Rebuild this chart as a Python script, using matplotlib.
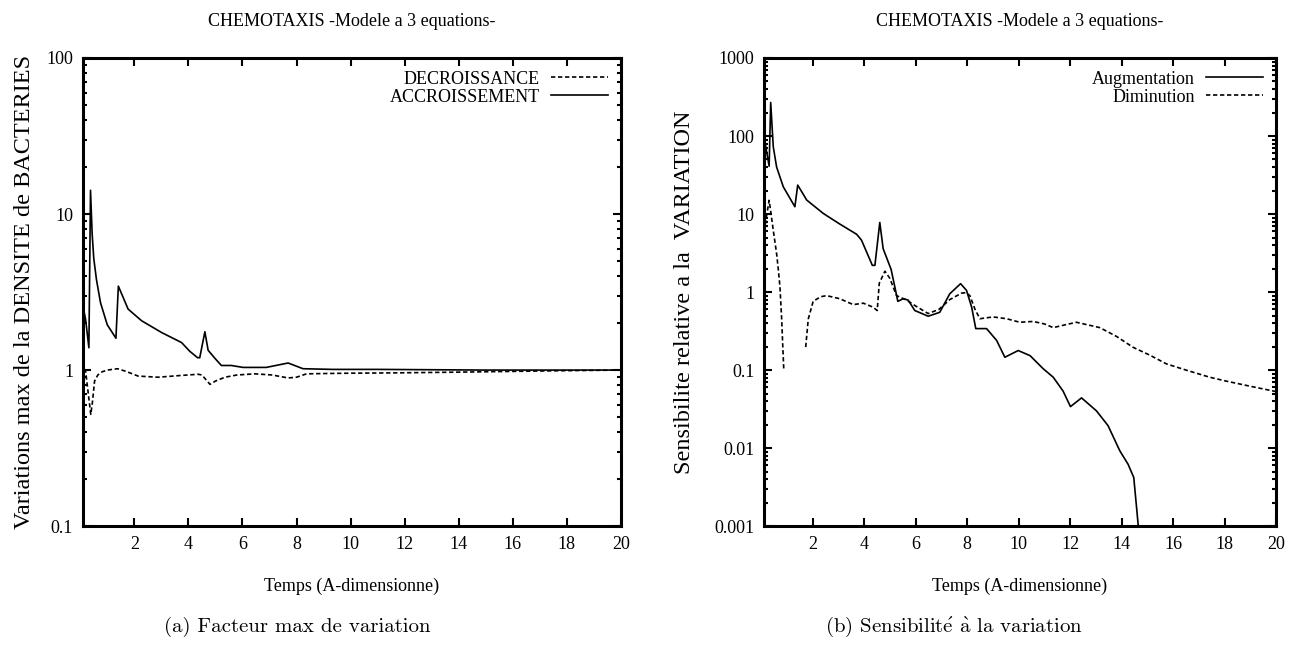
import numpy as np
import matplotlib
matplotlib.use("Agg")
import matplotlib.pyplot as plt
from matplotlib.ticker import FixedLocator, LogLocator, NullFormatter

# ---- data ----
# (a) facteur max de variation
t_acc = [0.1, 0.2, 0.32, 0.38, 0.44, 0.5, 0.6, 0.75, 1.0, 1.32, 1.41, 1.77,
         2.27, 3.01, 3.75, 4.05, 4.34, 4.42, 4.61, 4.73, 4.98, 5.22, 5.59,
         6.02, 6.88, 7.69, 8.24, 9.34, 11.0, 13.0, 15.0, 17.0, 20.0]
acc = [2.6, 2.1, 1.39, 14.2, 7.5, 5.2, 3.8, 2.7, 1.95, 1.6, 3.45, 2.46,
       2.07, 1.74, 1.5, 1.32, 1.2, 1.2, 1.76, 1.34, 1.19, 1.07, 1.07,
       1.04, 1.04, 1.11, 1.02, 1.01, 1.01, 1.005, 1.0, 1.0, 1.0]

t_dec = [0.1, 0.2, 0.3, 0.39, 0.45, 0.53, 0.65, 0.81, 1.0, 1.38, 1.7, 2.14,
         2.88, 3.6, 4.36, 4.5, 4.8, 5.0, 5.35, 5.8, 6.46, 7.1, 7.69, 8.0,
         8.37, 9.0, 10.0, 11.8, 14.0, 17.7, 20.0]
dec = [1.0, 0.98, 0.7, 0.52, 0.62, 0.85, 0.93, 0.975, 1.0, 1.02, 0.98, 0.915,
       0.90, 0.92, 0.94, 0.93, 0.81, 0.85, 0.9, 0.93, 0.946, 0.93, 0.89, 0.9,
       0.946, 0.95, 0.955, 0.96, 0.97, 0.99, 1.0]

# (b) sensibilite a la variation
t_aug = [0.1, 0.3, 0.36, 0.46, 0.59, 0.85, 1.3, 1.41, 1.76, 2.4, 3.0, 3.7,
         3.89, 4.31, 4.41, 4.6, 4.73, 5.04, 5.2, 5.3, 5.51, 5.7, 5.96, 6.48,
         6.93, 7.32, 7.74, 7.97, 8.17, 8.33, 8.75, 9.14, 9.46, 9.98, 10.44,
         10.95, 11.34, 11.72, 12.01, 12.44, 13.02, 13.47, 13.93, 14.25,
         14.47, 14.64, 14.75]
aug = [98, 41, 269, 73, 40, 22.3, 12.4, 23.5, 15.1, 10.2, 7.6, 5.5,
       4.62, 2.2, 2.2, 7.8, 3.6, 1.95, 1.1, 0.76, 0.82, 0.79, 0.58, 0.49,
       0.55, 0.95, 1.28, 1.05, 0.64, 0.34, 0.34, 0.24, 0.146, 0.178, 0.153,
       0.104, 0.081, 0.054, 0.034, 0.044, 0.030, 0.0194, 0.0092, 0.0062,
       0.0042, 0.00105, 0.0005]

t_dim1 = [0.12, 0.17, 0.3, 0.46, 0.59, 0.66, 0.72, 0.79, 0.82, 0.87]
dim1 = [6.0, 8.3, 15.0, 6.2, 3.1, 1.9, 1.16, 0.43, 0.24, 0.099]

t_dim2 = [1.72, 1.82, 2.01, 2.3, 2.53, 3.05, 3.57, 3.96, 4.34, 4.5, 4.58,
          4.8, 4.99, 5.25, 5.64, 6.0, 6.48, 6.9, 7.32, 7.78, 7.95, 8.1, 8.3,
          8.49, 9.0, 9.53, 10.04, 10.56, 11.0, 11.34, 11.8, 12.24, 13.15,
          13.8, 14.44, 15.1, 15.74, 16.5, 17.42, 18.08, 19.0, 20.0]
dim2 = [0.197, 0.45, 0.76, 0.87, 0.9, 0.82, 0.69, 0.72, 0.64, 0.58, 1.3,
        1.85, 1.5, 0.9, 0.79, 0.66, 0.53, 0.6, 0.8, 0.97, 0.98, 0.9, 0.6,
        0.455, 0.48, 0.455, 0.41, 0.42, 0.39, 0.35, 0.38, 0.41, 0.35,
        0.27, 0.196, 0.155, 0.12, 0.1, 0.081, 0.072, 0.062, 0.053]

xticks = [2, 4, 6, 8, 10, 12, 14, 16, 18, 20]
yticks_a = [0.1, 1, 10, 100]
ylabels_a = ["0.1", "1", "10", "100"]
yticks_b = [0.001, 0.01, 0.1, 1, 10, 100, 1000]
ylabels_b = ["0.001", "0.01", "0.1", "1", "10", "100", "1000"]

title = "CHEMOTAXIS -Modele a 3 equations-"
xlab = "Temps (A-dimensionne)"

plt.rcParams['font.family'] = ['Liberation Serif', 'DejaVu Serif']
plt.rcParams['mathtext.fontset'] = 'cm'
FS = 13
DASH = (2.6, 1.6)


def gnuplot_axes(ax, ymin, ymax, yticks, ylabels):
    ax.set_yscale('log')
    ax.set_xlim(0.1, 20)
    ax.set_ylim(ymin, ymax)
    ax.xaxis.set_major_locator(FixedLocator(xticks))
    ax.set_xticklabels([str(v) for v in xticks])
    ax.yaxis.set_major_locator(FixedLocator(yticks))
    ax.set_yticklabels(ylabels)
    ax.yaxis.set_minor_locator(LogLocator(base=10, subs=np.arange(2, 10)))
    ax.yaxis.set_minor_formatter(NullFormatter())
    ax.tick_params(which='both', direction='in', top=True, right=True,
                   labelsize=FS, width=1.5)
    ax.tick_params(which='major', length=6, pad=7)
    ax.tick_params(which='minor', length=3)
    for s in ax.spines.values():
        s.set_linewidth(2.2)
    ax.set_title(title, fontsize=FS, pad=23)
    ax.set_xlabel(xlab, fontsize=FS, labelpad=18)


def right_legend(ax):
    # gnuplot style key: text right-aligned, sample on the right
    leg = ax.legend(loc='upper right', frameon=False, markerfirst=False,
                    fontsize=FS, handlelength=3.2, handletextpad=0.6,
                    labelspacing=0.05, borderaxespad=0.3)
    for col in leg._legend_handle_box.get_children():
        col.align = 'right'
    return leg


fig = plt.figure(figsize=(12.98, 6.56), dpi=100)
ax1 = fig.add_axes([0.0639, 0.198, 0.4145, 0.7136])
ax2 = fig.add_axes([0.5886, 0.198, 0.3945, 0.7136])

ax1.plot(t_dec, dec, color='black', lw=1.2, dashes=DASH, label='DECROISSANCE')
ax1.plot(t_acc, acc, color='black', lw=1.2, label='ACCROISSEMENT')
gnuplot_axes(ax1, 0.1, 100, yticks_a, ylabels_a)
ax1.set_ylabel("Variations max de la DENSITE de BACTERIES", fontsize=17.5,
               labelpad=8)

ax2.plot(t_aug, aug, color='black', lw=1.2, label='Augmentation')
ax2.plot(t_dim1, dim1, color='black', lw=1.2, dashes=DASH, label='Diminution')
ax2.plot(t_dim2, dim2, color='black', lw=1.2, dashes=DASH)
gnuplot_axes(ax2, 0.001, 1000, yticks_b, ylabels_b)
ax2.set_ylabel("Sensibilite relative a la  VARIATION", fontsize=17.5,
               labelpad=14)

right_legend(ax1)
right_legend(ax2)

cap = dict(family=['cmr10', 'DejaVu Serif'], fontsize=15, ha='center')
fig.text(0.229, 0.037, "(a) Facteur max de variation", **cap)
fig.text(0.735, 0.037,
         r"(b) Sensibilit$\mathrm{\acute{e}}$ $\mathrm{\grave{a}}$ la variation",
         **cap)

fig.savefig("out.png", dpi=100)
